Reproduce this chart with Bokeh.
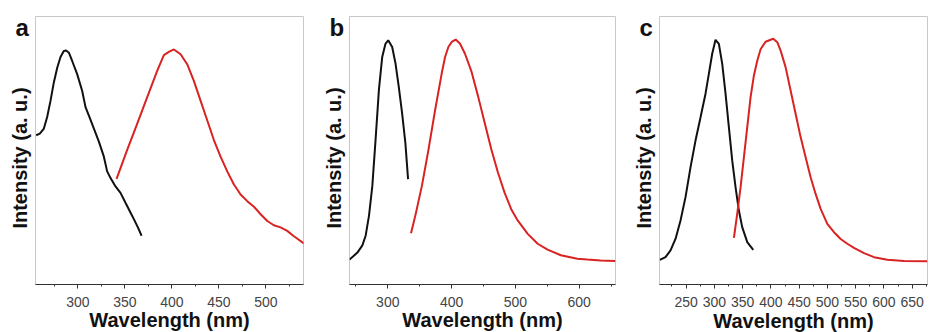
import math
from bokeh.plotting import figure
from bokeh.layouts import row
from bokeh.models import Range1d, FixedTicker, Label
from bokeh.embed import file_html
from bokeh.resources import INLINE

# ---------------- data (wavelength nm, normalised intensity) ----------------
# panel a
a_exc_nm = [255.7, 259.6, 263.9, 267.4, 271.0, 274.5, 278.1, 281.6, 285.1, 287.6, 290.5, 294.0,
            299.3, 304.6, 308.2, 311.7, 317.1, 322.4, 327.7, 331.2, 334.8, 340.1, 345.4, 350.7,
            356.1, 359.6, 363.9, 367.8]
a_exc_int = [0.557, 0.563, 0.582, 0.625, 0.686, 0.754, 0.809, 0.849, 0.871, 0.873, 0.865, 0.834,
             0.785, 0.723, 0.662, 0.631, 0.582, 0.533, 0.477, 0.422, 0.397, 0.366, 0.342, 0.305,
             0.268, 0.244, 0.213, 0.182]
a_em_nm = [341.2, 352.5, 363.2, 373.8, 384.4, 391.5, 396.8, 402.2, 409.3, 416.3, 423.4, 430.5,
           437.6, 444.7, 451.8, 458.9, 466.0, 473.1, 480.2, 487.3, 494.4, 501.5, 508.5, 515.6,
           522.7, 529.8, 541.2]
a_em_int = [0.394, 0.502, 0.600, 0.699, 0.797, 0.856, 0.868, 0.877, 0.859, 0.822, 0.760, 0.686,
            0.613, 0.539, 0.477, 0.422, 0.373, 0.336, 0.311, 0.290, 0.262, 0.237, 0.221, 0.213,
            0.200, 0.180, 0.151]

# panel b
b_exc_nm = [240.0, 252.4, 260.2, 265.4, 270.6, 275.8, 280.9, 286.1, 291.3, 296.5, 300.7, 306.9,
            312.1, 317.2, 322.4, 327.6, 331.8]
b_exc_int = [0.093, 0.119, 0.146, 0.183, 0.257, 0.368, 0.541, 0.726, 0.849, 0.899, 0.911, 0.886,
             0.825, 0.738, 0.640, 0.528, 0.393]
b_em_nm = [336.4, 343.2, 353.5, 363.9, 374.3, 384.6, 389.8, 395.0, 400.2, 406.4, 413.1, 420.9,
           431.3, 441.7, 452.0, 462.4, 472.8, 483.1, 493.5, 503.9, 519.4, 535.0, 550.5, 571.3,
           597.2, 612.7, 633.5, 656.8]
b_em_int = [0.191, 0.257, 0.368, 0.504, 0.652, 0.788, 0.849, 0.886, 0.905, 0.914, 0.899, 0.862,
            0.794, 0.701, 0.603, 0.504, 0.417, 0.343, 0.281, 0.238, 0.189, 0.152, 0.130, 0.109,
            0.096, 0.093, 0.090, 0.088]

# panel c
c_exc_nm = [203.6, 213.6, 222.5, 231.3, 240.2, 249.0, 257.9, 266.7, 275.6, 284.4, 290.3, 296.2,
            302.1, 308.0, 313.9, 319.8, 325.7, 331.6, 337.5, 343.4, 349.3, 358.2, 368.8]
c_exc_int = [0.092, 0.102, 0.127, 0.170, 0.239, 0.326, 0.438, 0.537, 0.624, 0.712, 0.786, 0.861,
             0.913, 0.898, 0.824, 0.712, 0.587, 0.463, 0.363, 0.276, 0.214, 0.158, 0.129]
c_em_nm = [334.6, 340.5, 346.4, 352.3, 358.2, 364.1, 370.0, 375.9, 381.8, 390.6, 404.2, 411.3,
           417.2, 426.0, 434.9, 443.7, 452.6, 461.4, 470.3, 479.1, 488.0, 499.8, 511.6, 523.4,
           535.2, 547.0, 564.7, 582.4, 606.0, 635.5, 676.7]
c_em_int = [0.174, 0.264, 0.363, 0.475, 0.587, 0.699, 0.780, 0.835, 0.878, 0.906, 0.917, 0.904,
            0.873, 0.811, 0.724, 0.637, 0.550, 0.475, 0.400, 0.338, 0.282, 0.226, 0.195, 0.170,
            0.152, 0.137, 0.117, 0.102, 0.092, 0.088, 0.087]

# axes
a_xlim = [255, 540]
b_xlim = [240, 657]
c_xlim = [203, 677]
a_ticks = [300, 350, 400, 450, 500]
a_minor = [275, 325, 375, 425, 475, 525]
b_ticks = [300, 400, 500, 600]
b_minor = [250, 350, 450, 550, 650]
c_ticks = [250, 300, 350, 400, 450, 500, 550, 600, 650]
c_minor = [225, 275, 325, 375, 425, 475, 525, 575, 625, 675]
panel_letters = ["a", "b", "c"]
x_title = "Wavelength (nm)"
y_title = "Intensity (a. u.)"

FONT = "Liberation Sans"
RED = "#d92222"
BLACK = "#111111"
FIG_H = 332
FRAME_W = 268


def panel(letter, xlim, ticks, minor, exc_x, exc_y, em_x, em_y, width, top, bottom):
    frame_h = FIG_H - top - bottom
    p = figure(width=width, height=FIG_H, x_range=Range1d(*xlim), y_range=Range1d(0, 1),
               output_backend="svg", toolbar_location=None,
               min_border_left=35, min_border_right=width - 35 - FRAME_W,
               min_border_top=top, min_border_bottom=bottom)
    p.grid.visible = False
    p.outline_line_color = "#c8c8c8"
    p.outline_line_width = 1
    p.background_fill_color = "white"
    p.border_fill_color = "white"

    xa = p.xaxis[0]
    xa.ticker = FixedTicker(ticks=ticks, minor_ticks=minor)
    xa.axis_line_color = "#333333"
    xa.axis_line_width = 1
    xa.major_tick_line_color = "#333333"
    xa.minor_tick_line_color = "#333333"
    xa.major_tick_in = 0
    xa.major_tick_out = 4
    xa.minor_tick_in = 0
    xa.minor_tick_out = 2
    xa.major_label_standoff = 8
    xa.major_label_text_font = FONT
    xa.major_label_text_font_size = "14px"
    xa.major_label_text_color = "#444444"

    p.yaxis[0].visible = False

    p.line(exc_x, exc_y, line_color=BLACK, line_width=2)
    p.line(em_x, em_y, line_color=RED, line_width=2)

    # panel letter: left of frame, near the top
    p.add_layout(Label(x=xlim[0], y=1 - 11 / frame_h, x_offset=-20, text=letter,
                       text_font=FONT, text_font_style="bold", text_font_size="24px",
                       text_color="#111111", text_align="left", text_baseline="alphabetic"),
                 "left")
    # y axis title: rotated, left of frame
    p.add_layout(Label(x=xlim[0], y=0.472, x_offset=-16, angle=math.pi / 2, text=y_title,
                       text_font=FONT, text_font_style="bold", text_font_size="20px",
                       text_color="#111111", text_align="center", text_baseline="alphabetic"),
                 "left")
    # x axis title below the tick labels
    p.add_layout(Label(x=(xlim[0] + xlim[1]) / 2, y=-36 / frame_h, text=x_title,
                       text_font=FONT, text_font_style="bold", text_font_size="20px",
                       text_color="#111111", text_align="center", text_baseline="alphabetic"),
                 "below")
    return p


pa = panel(panel_letters[0], a_xlim, a_ticks, a_minor, a_exc_nm, a_exc_int, a_em_nm, a_em_int, 312, 15, 46)
pb = panel(panel_letters[1], b_xlim, b_ticks, b_minor, b_exc_nm, b_exc_int, b_em_nm, b_em_int, 312, 16, 46)
pc = panel(panel_letters[2], c_xlim, c_ticks, c_minor, c_exc_nm, c_exc_int, c_em_nm, c_em_int, 306, 16, 48)

layout = row(pa, pb, pc)
open("out.html", "w").write(file_html(layout, INLINE))
